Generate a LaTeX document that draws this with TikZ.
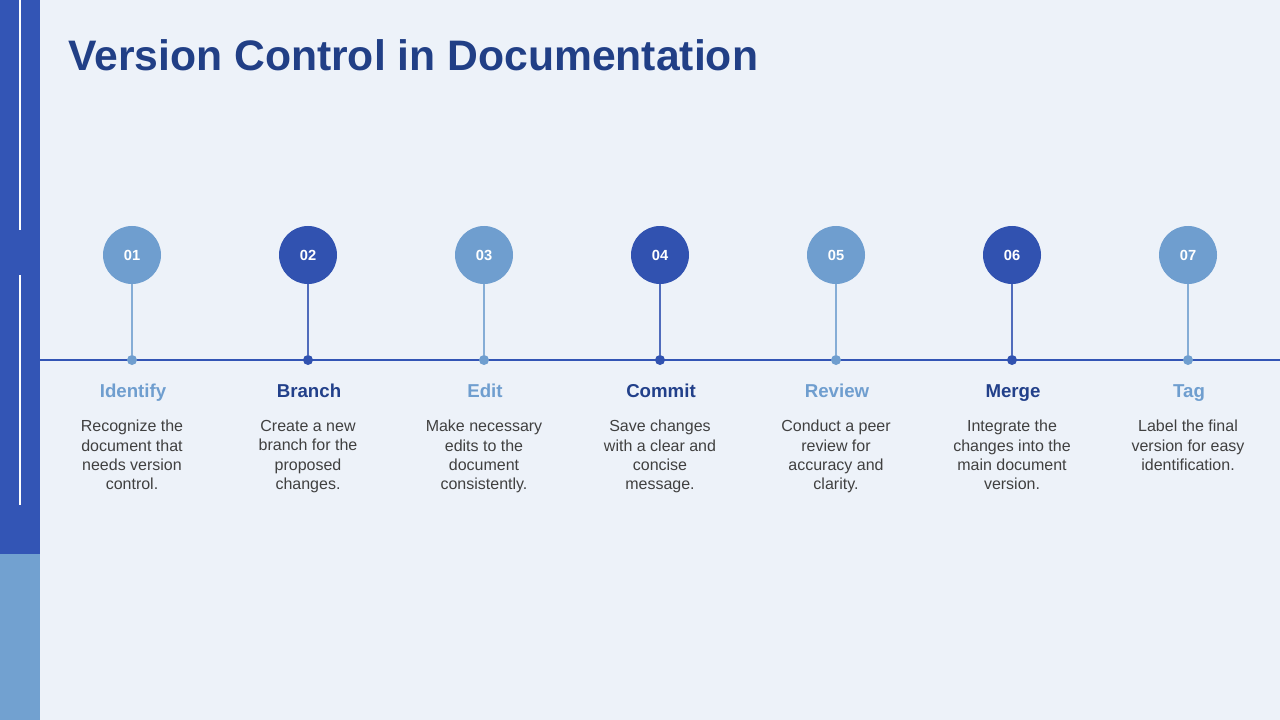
\documentclass[tikz,border=0pt]{standalone}
\usepackage{fontspec}
\setmainfont{Liberation Sans}
\definecolor{bg}{HTML}{EDF2F9}
\definecolor{darkbar}{HTML}{3355B5}
\definecolor{lightbar}{HTML}{72A1D0}
\definecolor{clight}{HTML}{6F9ECF}
\definecolor{cdark}{HTML}{3152B0}
\definecolor{titlec}{HTML}{213F86}
\definecolor{labdark}{HTML}{22408A}
\definecolor{descc}{HTML}{404040}
\tikzset{
  numcirc/.style={circle, minimum size=43.5pt, inner sep=0pt, text=white, font=\bfseries\fontsize{11}{13}\selectfont},
  stemline/.style={line width=1.1pt},
  tdot/.style={circle, minimum size=7.5pt, inner sep=0pt},
  steplabel/.style={font=\bfseries\fontsize{14}{16}\selectfont, inner sep=0pt, anchor=base},
  stepdesc/.style={font=\fontsize{12}{14.5}\selectfont, text=descc, align=center, inner sep=0pt, anchor=north},
}
\begin{document}
\begin{tikzpicture}[x=0.75pt,y=-0.75pt]
\useasboundingbox (0,0) rectangle (1280,720);
\fill[bg] (0,0) rectangle (1280,720);
% left bar
\fill[darkbar] (0,0) rectangle (40,554);
\fill[lightbar] (0,554) rectangle (40,720);
\draw[white, line width=1.2pt] (20,0) -- (20,230);
\draw[white, line width=1.2pt] (20,275) -- (20,505);
% title
\node[anchor=west, text=titlec, font=\bfseries\fontsize{32}{36}\selectfont, inner sep=0pt] (title) at (68,55) {Version Control in Documentation};
% timeline
\coordinate (tl) at (40,360);
\coordinate (tr) at (1280,360);
\draw[darkbar, line width=1.1pt] (tl) -- (tr);
% steps
\foreach \i/\x/\num/\col/\lab/\labc/\desc in {
  1/132/01/clight/Identify/clight/{Recognize the\\document that\\needs version\\control.},
  2/308/02/cdark/Branch/labdark/{Create a new\\branch for the\\proposed\\changes.},
  3/484/03/clight/Edit/clight/{Make necessary\\edits to the\\document\\consistently.},
  4/660/04/cdark/Commit/labdark/{Save changes\\with a clear and\\concise\\message.},
  5/836/05/clight/Review/clight/{Conduct a peer\\review  for\\accuracy and\\clarity.},
  6/1012/06/cdark/Merge/labdark/{Integrate the\\changes into the\\main document\\version.},
  7/1188/07/clight/Tag/clight/{Label the final\\version  for easy\\identification.}}{
  \node[numcirc, fill=\col] (c\i) at (\x,255) {\num};
  \node[tdot, fill=\col] (d\i) at (\x,360) {};
  \draw[stemline, draw=\col!85!white] (c\i) -- (d\i);
  \node[steplabel, text=\labc] (l\i) at (\x+1,397) {\lab};
  \node[stepdesc] (t\i) at (\x,420) {\desc};
}
\end{tikzpicture}
\end{document}
